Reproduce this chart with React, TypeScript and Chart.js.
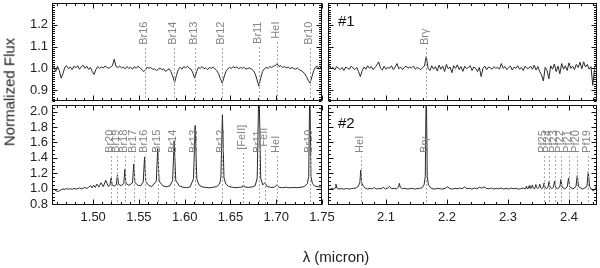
import React, { useEffect, useRef } from "react";
import { Chart, registerables } from "chart.js";

Chart.register(...registerables);

const FONT = '"Liberation Sans", Arial, sans-serif';

// ---------------- data ----------------
// #1, H band: sampled every 0.002 micron starting at 1.455
const tlStart = 1.455;
const tlStep = 0.002;
const tlFlux = [
  1.000, 1.008, 0.985, 1.010, 0.990, 0.955, 0.975, 1.005, 1.012, 0.998,
  1.006, 0.994, 1.010, 1.002, 1.012, 0.996, 1.008, 1.014, 1.000, 1.010,
  0.995, 1.004, 0.985, 0.972, 0.995, 1.008, 1.000, 1.006, 1.002, 1.010,
  1.004, 1.000, 1.006, 1.012, 1.042, 1.008, 1.004, 1.010, 1.002, 1.006,
  0.998, 1.008, 1.000, 1.004, 0.996, 1.008, 1.000, 1.010, 1.002, 0.996,
  0.985, 0.992, 1.006, 1.000, 1.004, 0.995, 0.998, 0.990, 0.995, 1.002,
  0.994, 0.998, 0.986, 0.992, 0.998, 0.985, 0.962, 0.935, 0.968, 0.995,
  1.005, 0.996, 1.008, 1.002, 1.010, 1.000, 0.996, 0.978, 0.955, 0.985,
  1.004, 1.000, 1.008, 0.998, 1.002, 0.994, 1.004, 1.000, 1.006, 0.998,
  0.990, 0.975, 0.952, 0.932, 0.960, 0.985, 0.998, 1.004, 1.000, 1.008,
  1.002, 1.006, 0.998, 1.004, 1.000, 1.004, 0.996, 1.000, 1.002, 0.996,
  0.990, 0.975, 0.948, 0.918, 0.955, 0.985, 0.998, 1.004, 1.000, 1.008,
  1.004, 1.010, 1.012, 1.022, 1.008, 1.012, 1.004, 1.008, 1.002, 1.006,
  0.998, 1.004, 1.000, 0.996, 1.002, 0.994, 0.990, 0.985, 0.975, 0.962,
  0.945, 0.932, 0.962, 0.990, 1.006, 1.010, 0.996, 1.008, 1.004,
];

// #1, K band: sampled every 0.003 micron starting at 2.0041
const trStart = 2.0041;
const trStep = 0.003;
const trFlux = [
  0.990, 1.012, 0.998, 1.005, 0.992, 1.008, 1.000, 0.995, 1.004, 0.990,
  1.006, 1.000, 0.996, 1.010, 1.002, 0.994, 1.004, 0.985, 0.962, 0.990,
  1.006, 0.996, 1.012, 1.000, 1.008, 0.994, 1.004, 1.015, 1.030, 1.000,
  0.992, 1.010, 0.996, 1.004, 1.000, 1.012, 0.994, 1.006, 1.022, 0.998,
  1.006, 0.994, 1.004, 1.010, 1.000, 1.006, 1.002, 1.010, 0.996, 1.004,
  1.000, 0.994, 1.004, 1.010, 1.055, 1.000, 0.990, 1.012, 0.996, 1.008,
  0.988, 1.015, 0.996, 1.010, 0.985, 1.018, 0.998, 1.006, 0.980, 1.012,
  1.000, 1.016, 0.994, 1.008, 0.986, 1.010, 0.998, 1.004, 1.012, 0.990,
  1.006, 1.000, 0.985, 1.004, 0.962, 1.000, 1.010, 0.994, 1.006, 1.002,
  0.996, 1.008, 1.000, 1.004, 0.996, 1.022, 1.000, 1.008, 0.994, 1.004,
  1.010, 0.992, 1.006, 1.000, 1.012, 0.996, 1.004, 0.990, 1.010, 1.000,
  1.000, 1.010, 0.996, 1.014, 0.992, 1.008, 0.985, 0.970, 0.942, 1.005,
  0.990, 0.952, 1.012, 0.996, 1.020, 0.985, 1.010, 0.975, 1.022, 0.996,
  1.012, 0.990, 1.025, 1.000, 1.010, 0.994, 1.018, 1.004, 1.028, 0.998,
  1.030, 1.006, 1.018, 0.996, 1.008, 0.922, 1.004, 1.020, 1.000,
];

// #2, H band
const blWave = [
  1.455, 1.457, 1.459, 1.461, 1.463, 1.465, 1.467, 1.469, 1.471, 1.473,
  1.475, 1.477, 1.479, 1.481, 1.483, 1.485, 1.487, 1.489, 1.491, 1.493,
  1.495, 1.4971, 1.4987, 1.5004, 1.5022, 1.5041, 1.5062, 1.5085, 1.511, 1.5137,
  1.5165, 1.5184, 1.5196, 1.5208, 1.523, 1.5253, 1.5265, 1.5277, 1.5305, 1.5334,
  1.5346, 1.5358, 1.539, 1.543, 1.5443, 1.5456, 1.549, 1.552, 1.5547, 1.5561,
  1.5575, 1.561, 1.564, 1.569, 1.5705, 1.572, 1.576, 1.58, 1.584, 1.5868,
  1.5885, 1.5902, 1.594, 1.598, 1.602, 1.606, 1.6096, 1.6114, 1.6132, 1.6155,
  1.619, 1.623, 1.627, 1.631, 1.635, 1.638, 1.6395, 1.6412, 1.6429, 1.645,
  1.648, 1.652, 1.656, 1.66, 1.6628, 1.6642, 1.6656, 1.67, 1.674, 1.677,
  1.6792, 1.6811, 1.683, 1.6852, 1.6877, 1.69, 1.694, 1.698, 1.7007, 1.703,
  1.707, 1.711, 1.715, 1.719, 1.723, 1.727, 1.731, 1.734, 1.7355, 1.7367,
  1.7379, 1.7395, 1.742, 1.746, 1.75,
];
const blFlux = [
  1.000, 0.992, 0.978, 0.965, 0.972, 0.988, 0.998, 0.990, 1.004, 0.994,
  1.002, 0.992, 1.006, 0.996, 1.002, 1.010, 0.996, 1.008, 1.016, 1.004,
  1.020, 1.040, 1.012, 1.048, 1.018, 1.060, 1.022, 1.078, 1.028, 1.110,
  1.032, 1.050, 1.140, 1.050, 1.035, 1.055, 1.180, 1.060, 1.040, 1.065,
  1.250, 1.070, 1.045, 1.075, 1.320, 1.080, 1.045, 1.040, 1.090, 1.410,
  1.090, 1.040, 1.030, 1.100, 1.520, 1.100, 1.040, 1.025, 1.040, 1.110,
  1.620, 1.110, 1.040, 1.020, 1.015, 1.025, 1.130, 1.820, 1.130, 1.050,
  1.025, 1.018, 1.012, 1.020, 1.028, 1.060, 1.140, 1.960, 1.140, 1.060,
  1.030, 1.020, 1.014, 1.020, 1.022, 1.050, 1.022, 1.018, 1.025, 1.040,
  1.140, 2.400, 1.140, 1.050, 1.080, 1.030, 1.018, 1.020, 1.050, 1.020,
  1.014, 1.020, 1.012, 1.018, 1.014, 1.020, 1.030, 1.070, 1.160, 2.400,
  1.160, 1.070, 1.035, 1.025, 1.020,
];

// #2, K band
const brWave = [
  2.005, 2.008, 2.011, 2.014, 2.0165, 2.018, 2.0195, 2.023, 2.027, 2.031,
  2.035, 2.039, 2.043, 2.047, 2.051, 2.0545, 2.0572, 2.0587, 2.0602, 2.063,
  2.0665, 2.07, 2.074, 2.078, 2.081, 2.084, 2.088, 2.092, 2.0955, 2.099,
  2.103, 2.106, 2.109, 2.113, 2.117, 2.1205, 2.122, 2.1235, 2.127, 2.131,
  2.135, 2.139, 2.143, 2.147, 2.151, 2.155, 2.159, 2.1625, 2.1645, 2.1661,
  2.1677, 2.1697, 2.1735, 2.177, 2.181, 2.185, 2.189, 2.193, 2.197, 2.201,
  2.205, 2.209, 2.213, 2.217, 2.221, 2.225, 2.229, 2.233, 2.237, 2.241,
  2.245, 2.249, 2.253, 2.257, 2.261, 2.265, 2.269, 2.273, 2.277, 2.281,
  2.285, 2.289, 2.293, 2.297, 2.301, 2.305, 2.309, 2.313, 2.317, 2.321,
  2.325, 2.328, 2.3292, 2.3303, 2.3314, 2.3326, 2.3338, 2.3349, 2.3361, 2.3375,
  2.3388, 2.34, 2.3413, 2.3428, 2.3443, 2.3457, 2.3471, 2.3489, 2.3506, 2.3521,
  2.3536, 2.3557, 2.3577, 2.3593, 2.3609, 2.3633, 2.3656, 2.3673, 2.369, 2.3718,
  2.3746, 2.3764, 2.3782, 2.3816, 2.385, 2.3869, 2.3888, 2.3931, 2.3973, 2.3993,
  2.4013, 2.4065, 2.4115, 2.4136, 2.4157, 2.4225, 2.4295, 2.4317, 2.4339, 2.437,
  2.4405, 2.4435, 2.446,
];
const brFlux = [
  1.000, 0.992, 1.004, 0.996, 1.012, 1.060, 1.010, 0.996, 1.004, 0.994,
  1.004, 0.996, 1.002, 1.006, 1.010, 1.030, 1.080, 1.240, 1.080, 1.030,
  1.008, 0.996, 1.004, 1.000, 1.018, 0.996, 1.004, 1.000, 1.018, 1.000,
  1.010, 1.032, 1.000, 1.006, 0.998, 1.020, 1.070, 1.020, 1.000, 1.006,
  0.996, 1.002, 1.006, 0.996, 1.002, 1.006, 1.012, 1.050, 1.160, 2.400,
  1.160, 1.050, 1.012, 1.000, 0.996, 1.006, 1.000, 0.996, 1.006, 1.025,
  1.000, 0.996, 1.006, 1.000, 1.010, 1.000, 1.025, 1.000, 1.006, 0.996,
  1.010, 1.000, 1.020, 1.008, 1.024, 1.004, 1.000, 1.010, 0.996, 1.006,
  1.000, 1.010, 0.996, 1.006, 0.996, 1.010, 1.000, 1.006, 0.996, 1.002,
  1.010, 1.000, 1.008, 1.035, 1.008, 1.000, 1.010, 1.040, 1.010, 1.002,
  1.012, 1.050, 1.012, 1.002, 1.014, 1.055, 1.014, 1.002, 1.014, 1.060,
  1.014, 1.002, 1.016, 1.075, 1.016, 1.004, 1.018, 1.090, 1.018, 1.002,
  1.020, 1.100, 1.020, 1.000, 1.022, 1.120, 1.022, 0.998, 1.025, 1.140,
  1.025, 0.998, 1.028, 1.170, 1.028, 0.995, 1.030, 1.220, 1.030, 0.990,
  0.972, 1.010, 1.050,
];

// line identifications
const tlLabels = ["Br16", "Br14", "Br13", "Br12", "Br11", "HeI", "Br10"];
const tlLabelWaves = [1.5561, 1.5885, 1.6114, 1.6412, 1.6811, 1.7007, 1.7367];
const trLabels = ["Brγ"];
const trLabelWaves = [2.1661];
const blLabels = ["Br20", "Br19", "Br18", "Br17", "Br16", "Br15", "Br14", "Br13", "Br12", "[FeII]", "Br11", "FeII", "HeI", "Br10"];
const blLabelWaves = [1.5196, 1.5265, 1.5346, 1.5443, 1.5561, 1.5705, 1.5885, 1.6114, 1.6412, 1.6642, 1.6811, 1.6877, 1.7007, 1.7367];
const brLabels = ["HeI", "Brγ", "Pf25", "Pf24", "Pf23", "Pf22", "Pf21", "Pf20", "Pf19"];
const brLabelWaves = [2.0587, 2.1661, 2.3593, 2.3673, 2.3764, 2.3869, 2.3993, 2.4136, 2.4317];

// axis ticks
const hBandTicks = [1.5, 1.55, 1.6, 1.65, 1.7, 1.75];
const kBandTicks = [2.1, 2.2, 2.3, 2.4];
const topFluxTicks = [0.9, 1.0, 1.1, 1.2];
const bottomFluxTicks = [0.8, 1.0, 1.2, 1.4, 1.6, 1.8, 2.0];

// ---------------- drawing ----------------
type Panel = {
  left: number; top: number; width: number; height: number;
  padding: { top: number; right: number; bottom: number; left: number };
  wave: number[]; flux: number[];
  xMin: number; xMax: number; yMin: number; yMax: number;
  xMajor: number[]; xMinorStep: number; yMajor: number[]; yMinorStep: number;
  showX: boolean; showY: boolean; xDecimals: number;
  labels: string[]; labelWaves: number[]; labelAnchor: number; labelAlign: "top" | "bottom";
  labelLift?: number[];
  tag?: string;
};

function minorValues(min: number, max: number, step: number, major: number[]) {
  const out: number[] = [];
  for (let k = Math.ceil(min / step - 1e-6); k * step <= max + 1e-9; k++) {
    const v = k * step;
    if (!major.some((m) => Math.abs(m - v) < step / 10)) out.push(v);
  }
  return out;
}

function decorPlugin(cfg: Panel) {
  return {
    id: "panelDecor",
    afterDatasetsDraw(chart: any) {
      const { ctx, chartArea: a } = chart;
      const xs = chart.scales.x;
      const ys = chart.scales.y;
      ctx.save();
      ctx.lineWidth = 1;
      // line identifications
      ctx.font = `11px ${FONT}`;
      cfg.labels.forEach((name, k) => {
        const px = Math.round(xs.getPixelForValue(cfg.labelWaves[k])) + 0.5;
        const w = ctx.measureText(name).width;
        const lift = cfg.labelLift ? cfg.labelLift[k] : 0;
        const anchor = ys.getPixelForValue(cfg.labelAnchor + lift);
        const bottom = cfg.labelAlign === "top" ? anchor + w : anchor;
        ctx.strokeStyle = "#a8a8a8";
        ctx.setLineDash([2, 2]);
        ctx.beginPath();
        ctx.moveTo(px, Math.round(bottom + 3));
        ctx.lineTo(px, a.bottom);
        ctx.stroke();
        ctx.setLineDash([]);
        ctx.save();
        ctx.translate(px + 1, bottom);
        ctx.rotate(-Math.PI / 2);
        ctx.fillStyle = "#858585";
        ctx.textAlign = "left";
        ctx.textBaseline = "alphabetic";
        ctx.fillText(name, 0, 0);
        ctx.restore();
      });
      // frame
      ctx.strokeStyle = "#111";
      const L = Math.round(a.left) + 0.5;
      const R = Math.round(a.right) - 0.5;
      const T = Math.round(a.top) + 0.5;
      const B = Math.round(a.bottom) - 0.5;
      ctx.strokeRect(L, T, R - L, B - T);
      const xTick = (v: number, len: number) => {
        const p = Math.round(xs.getPixelForValue(v)) + 0.5;
        ctx.moveTo(p, B); ctx.lineTo(p, B - len);
        ctx.moveTo(p, T); ctx.lineTo(p, T + len);
      };
      const yTick = (v: number, len: number) => {
        const p = Math.round(ys.getPixelForValue(v)) + 0.5;
        ctx.moveTo(L, p); ctx.lineTo(L + len, p);
        ctx.moveTo(R, p); ctx.lineTo(R - len, p);
      };
      ctx.beginPath();
      cfg.xMajor.forEach((v) => xTick(v, 5));
      minorValues(cfg.xMin, cfg.xMax, cfg.xMinorStep, cfg.xMajor).forEach((v) => xTick(v, 2.5));
      cfg.yMajor.forEach((v) => yTick(v, 5));
      minorValues(cfg.yMin, cfg.yMax, cfg.yMinorStep, cfg.yMajor).forEach((v) => yTick(v, 2.5));
      ctx.stroke();
      if (cfg.tag) {
        ctx.font = `15px ${FONT}`;
        ctx.fillStyle = "#111";
        ctx.textAlign = "left";
        ctx.textBaseline = "middle";
        ctx.fillText(cfg.tag, a.left + 10, a.top + 19);
      }
      ctx.restore();
    },
  };
}

function PanelChart({ cfg }: { cfg: Panel }) {
  const ref = useRef<HTMLCanvasElement>(null);
  useEffect(() => {
    if (!ref.current) return;
    const chart = new Chart(ref.current, {
      type: "line",
      data: {
        datasets: [
          {
            data: cfg.wave.map((w, i) => ({ x: w, y: cfg.flux[i] })),
            borderColor: "#2a2a2a",
            borderWidth: 1,
            pointRadius: 0,
            tension: 0,
            fill: false,
            clip: 0,
          } as any,
        ],
      },
      options: {
        responsive: false,
        animation: false,
        devicePixelRatio: 1,
        layout: { padding: cfg.padding },
        plugins: { legend: { display: false }, tooltip: { enabled: false } },
        scales: {
          x: {
            type: "linear",
            min: cfg.xMin,
            max: cfg.xMax,
            display: cfg.showX,
            grid: { display: false, drawTicks: false },
            border: { display: false },
            ticks: {
              padding: 5,
              autoSkip: false,
              maxRotation: 0,
              color: "#222",
              font: { family: FONT, size: 13 },
              callback: (v: any) => Number(v).toFixed(cfg.xDecimals),
            },
            afterBuildTicks: (s: any) => {
              s.ticks = cfg.xMajor.map((v) => ({ value: v }));
            },
            afterFit: (s: any) => {
              if (cfg.showX) s.height = 63;
              s.paddingLeft = 0;
              s.paddingRight = 0;
            },
          },
          y: {
            type: "linear",
            min: cfg.yMin,
            max: cfg.yMax,
            display: cfg.showY,
            grid: { display: false, drawTicks: false },
            border: { display: false },
            ticks: {
              padding: 4,
              autoSkip: false,
              color: "#222",
              font: { family: FONT, size: 13 },
              callback: (v: any) => Number(v).toFixed(1),
            },
            afterBuildTicks: (s: any) => {
              s.ticks = cfg.yMajor.map((v) => ({ value: v }));
            },
            afterFit: (s: any) => {
              if (cfg.showY) s.width = 52;
              s.paddingTop = 0;
              s.paddingBottom = 0;
            },
          },
        },
      } as any,
      plugins: [decorPlugin(cfg)],
    });
    return () => chart.destroy();
  }, [cfg]);
  return (
    <canvas
      ref={ref}
      width={cfg.width}
      height={cfg.height}
      style={{ position: "absolute", left: cfg.left, top: cfg.top, width: cfg.width, height: cfg.height }}
    />
  );
}

const H_MIN = 1.455, H_MAX = 1.75, K_MIN = 2.005, K_MAX = 2.446;
const TOP_MIN = 0.85, TOP_MAX = 1.3, BOT_MIN = 0.79, BOT_MAX = 2.085;

const panels: Panel[] = [
  {
    left: 0, top: 0, width: 330, height: 102,
    padding: { top: 3, right: 8, bottom: 1, left: 0 },
    wave: tlFlux.map((_, i) => tlStart + tlStep * i), flux: tlFlux,
    xMin: H_MIN, xMax: H_MAX, yMin: TOP_MIN, yMax: TOP_MAX,
    xMajor: hBandTicks, xMinorStep: 0.01, yMajor: topFluxTicks, yMinorStep: 0.01,
    showX: false, showY: true, xDecimals: 2,
    labels: tlLabels, labelWaves: tlLabelWaves, labelAnchor: 1.215, labelAlign: "top",
  },
  {
    left: 328, top: 0, width: 272, height: 102,
    padding: { top: 3, right: 3, bottom: 1, left: 0 },
    wave: trFlux.map((_, i) => trStart + trStep * i), flux: trFlux,
    xMin: K_MIN, xMax: K_MAX, yMin: TOP_MIN, yMax: TOP_MAX,
    xMajor: kBandTicks, xMinorStep: 0.02, yMajor: topFluxTicks, yMinorStep: 0.01,
    showX: false, showY: false, xDecimals: 1,
    labels: trLabels, labelWaves: trLabelWaves, labelAnchor: 1.107, labelAlign: "bottom",
    tag: "#1",
  },
  {
    left: 0, top: 104, width: 345, height: 164,
    padding: { top: 1, right: 23, bottom: 0, left: 0 },
    wave: blWave, flux: blFlux,
    xMin: H_MIN, xMax: H_MAX, yMin: BOT_MIN, yMax: BOT_MAX,
    xMajor: hBandTicks, xMinorStep: 0.01, yMajor: bottomFluxTicks, yMinorStep: 0.05,
    showX: true, showY: true, xDecimals: 2,
    labels: blLabels, labelWaves: blLabelWaves, labelAnchor: 1.465, labelAlign: "bottom",
    labelLift: [0, 0, 0, 0, 0, 0, 0, 0, 0, 0.04, 0, 0.08, 0, 0],
  },
  {
    left: 328, top: 104, width: 272, height: 164,
    padding: { top: 1, right: 3, bottom: 0, left: 0 },
    wave: brWave, flux: brFlux,
    xMin: K_MIN, xMax: K_MAX, yMin: BOT_MIN, yMax: BOT_MAX,
    xMajor: kBandTicks, xMinorStep: 0.02, yMajor: bottomFluxTicks, yMinorStep: 0.05,
    showX: true, showY: false, xDecimals: 1,
    labels: brLabels, labelWaves: brLabelWaves, labelAnchor: 1.465, labelAlign: "bottom",
    tag: "#2",
  },
];

export default function App() {
  Chart.defaults.font.family = FONT;
  return (
    <div style={{ position: "absolute", left: 0, top: 0, width: 600, height: 268, background: "#fff", overflow: "hidden" }}>
      {panels.map((p, i) => (
        <PanelChart key={i} cfg={p} />
      ))}
      <div
        style={{
          position: "absolute", left: 9, top: 92, transform: "translate(-50%, -50%) rotate(-90deg)",
          font: `15px ${FONT}`, color: "#222", whiteSpace: "nowrap",
        }}
      >
        Normalized Flux
      </div>
      <div
        style={{
          position: "absolute", left: 336, top: 256, transform: "translate(-50%, -50%)",
          font: `15px ${FONT}`, color: "#222", whiteSpace: "nowrap",
        }}
      >
        λ (micron)
      </div>
    </div>
  );
}
